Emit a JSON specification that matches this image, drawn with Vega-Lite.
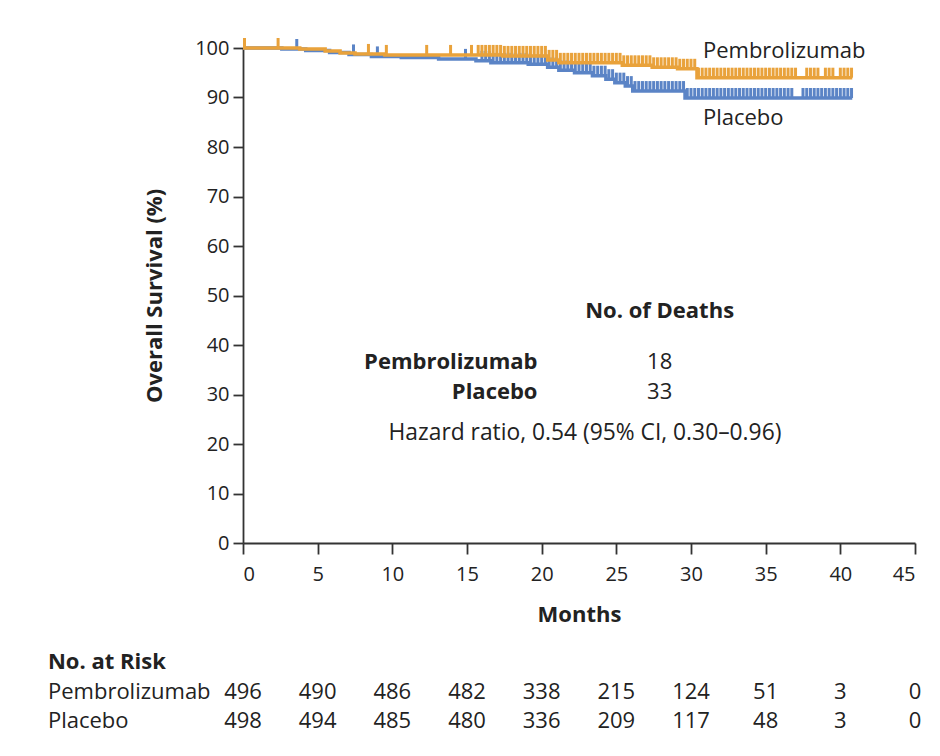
{
 "$schema": "https://vega.github.io/schema/vega-lite/v6.json",
 "width": 672, "height": 495,
 "autosize": {"type": "none"},
 "padding": {"left": 243, "top": 48, "right": 25, "bottom": 213},
 "background": "white",
 "config": {
  "view": {"stroke": null},
  "font": "Open Sans",
  "axis": {"domainColor": "#333", "domainWidth": 1.8, "tickColor": "#333", "tickWidth": 1.8, "labelFont": "Open Sans", "labelFontSize": 20, "labelColor": "#222", "titleFont": "Open Sans", "titleFontSize": 22, "titleFontWeight": "bold", "titleColor": "#222", "grid": false},
  "axisX": {"tickSize": 11, "labelPadding": 10, "titlePadding": 20},
  "axisY": {"tickSize": 10, "labelPadding": 4, "titlePadding": 28},
  "text": {"font": "Open Sans", "fontSize": 22, "color": "#222", "baseline": "middle"}
 },
 "datasets": {
  "km": [
   {"arm": "Pembrolizumab", "t": 0, "s": 100}, {"arm": "Pembrolizumab", "t": 3.8, "s": 99.8}, {"arm": "Pembrolizumab", "t": 5.5, "s": 99.4}, {"arm": "Pembrolizumab", "t": 6.5, "s": 99.0}, {"arm": "Pembrolizumab", "t": 7.5, "s": 98.8}, {"arm": "Pembrolizumab", "t": 9.5, "s": 98.6}, {"arm": "Pembrolizumab", "t": 17.4, "s": 98.4}, {"arm": "Pembrolizumab", "t": 20.4, "s": 97.6}, {"arm": "Pembrolizumab", "t": 21.15, "s": 97.0}, {"arm": "Pembrolizumab", "t": 25.4, "s": 96.5}, {"arm": "Pembrolizumab", "t": 27.4, "s": 96.1}, {"arm": "Pembrolizumab", "t": 29.1, "s": 95.8}, {"arm": "Pembrolizumab", "t": 30.4, "s": 94.0}, {"arm": "Pembrolizumab", "t": 40.8, "s": 94.0},
   {"arm": "Placebo", "t": 0, "s": 100}, {"arm": "Placebo", "t": 2.6, "s": 99.8}, {"arm": "Placebo", "t": 4.2, "s": 99.5}, {"arm": "Placebo", "t": 5.8, "s": 99.1}, {"arm": "Placebo", "t": 7.1, "s": 98.7}, {"arm": "Placebo", "t": 8.6, "s": 98.3}, {"arm": "Placebo", "t": 10.6, "s": 98.1}, {"arm": "Placebo", "t": 13.1, "s": 97.8}, {"arm": "Placebo", "t": 15.6, "s": 97.4}, {"arm": "Placebo", "t": 16.6, "s": 97.0}, {"arm": "Placebo", "t": 19.1, "s": 96.7}, {"arm": "Placebo", "t": 20.4, "s": 96.1}, {"arm": "Placebo", "t": 21.15, "s": 95.5}, {"arm": "Placebo", "t": 22.2, "s": 95.0}, {"arm": "Placebo", "t": 23.4, "s": 94.4}, {"arm": "Placebo", "t": 24.3, "s": 93.7}, {"arm": "Placebo", "t": 24.9, "s": 93.0}, {"arm": "Placebo", "t": 25.6, "s": 92.3}, {"arm": "Placebo", "t": 26.1, "s": 91.3}, {"arm": "Placebo", "t": 29.6, "s": 89.9}, {"arm": "Placebo", "t": 40.8, "s": 89.9}
  ],
  "cens": [
   {"arm": "Pembrolizumab", "t": 0.1, "s": 100}, {"arm": "Pembrolizumab", "t": 2.35, "s": 100}, {"arm": "Pembrolizumab", "t": 8.4, "s": 98.8}, {"arm": "Pembrolizumab", "t": 9.6, "s": 98.6}, {"arm": "Pembrolizumab", "t": 12.3, "s": 98.6}, {"arm": "Pembrolizumab", "t": 13.9, "s": 98.6}, {"arm": "Pembrolizumab", "t": 15.3, "s": 98.6},
   {"arm": "Pembrolizumab", "t": 15.75, "s": 98.6}, {"arm": "Pembrolizumab", "t": 16, "s": 98.6}, {"arm": "Pembrolizumab", "t": 16.25, "s": 98.6}, {"arm": "Pembrolizumab", "t": 16.5, "s": 98.6}, {"arm": "Pembrolizumab", "t": 16.75, "s": 98.6}, {"arm": "Pembrolizumab", "t": 17, "s": 98.6}, {"arm": "Pembrolizumab", "t": 17.25, "s": 98.6},
   {"arm": "Pembrolizumab", "t": 17.5, "s": 98.4}, {"arm": "Pembrolizumab", "t": 17.75, "s": 98.4}, {"arm": "Pembrolizumab", "t": 18, "s": 98.4}, {"arm": "Pembrolizumab", "t": 18.25, "s": 98.4}, {"arm": "Pembrolizumab", "t": 18.5, "s": 98.4}, {"arm": "Pembrolizumab", "t": 18.75, "s": 98.4}, {"arm": "Pembrolizumab", "t": 19, "s": 98.4}, {"arm": "Pembrolizumab", "t": 19.25, "s": 98.4}, {"arm": "Pembrolizumab", "t": 19.5, "s": 98.4}, {"arm": "Pembrolizumab", "t": 19.75, "s": 98.4}, {"arm": "Pembrolizumab", "t": 20, "s": 98.4}, {"arm": "Pembrolizumab", "t": 20.25, "s": 98.4},
   {"arm": "Pembrolizumab", "t": 20.5, "s": 97.6}, {"arm": "Pembrolizumab", "t": 20.75, "s": 97.6}, {"arm": "Pembrolizumab", "t": 21, "s": 97.6},
   {"arm": "Pembrolizumab", "t": 21.25, "s": 97.0}, {"arm": "Pembrolizumab", "t": 21.5, "s": 97.0}, {"arm": "Pembrolizumab", "t": 21.75, "s": 97.0}, {"arm": "Pembrolizumab", "t": 22, "s": 97.0}, {"arm": "Pembrolizumab", "t": 22.25, "s": 97.0}, {"arm": "Pembrolizumab", "t": 22.5, "s": 97.0}, {"arm": "Pembrolizumab", "t": 22.75, "s": 97.0}, {"arm": "Pembrolizumab", "t": 23, "s": 97.0}, {"arm": "Pembrolizumab", "t": 23.25, "s": 97.0}, {"arm": "Pembrolizumab", "t": 23.5, "s": 97.0}, {"arm": "Pembrolizumab", "t": 23.75, "s": 97.0}, {"arm": "Pembrolizumab", "t": 24, "s": 97.0}, {"arm": "Pembrolizumab", "t": 24.25, "s": 97.0}, {"arm": "Pembrolizumab", "t": 24.5, "s": 97.0}, {"arm": "Pembrolizumab", "t": 24.75, "s": 97.0}, {"arm": "Pembrolizumab", "t": 25, "s": 97.0}, {"arm": "Pembrolizumab", "t": 25.25, "s": 97.0},
   {"arm": "Pembrolizumab", "t": 25.5, "s": 96.5}, {"arm": "Pembrolizumab", "t": 25.75, "s": 96.5}, {"arm": "Pembrolizumab", "t": 26, "s": 96.5}, {"arm": "Pembrolizumab", "t": 26.25, "s": 96.5}, {"arm": "Pembrolizumab", "t": 26.5, "s": 96.5}, {"arm": "Pembrolizumab", "t": 26.75, "s": 96.5}, {"arm": "Pembrolizumab", "t": 27, "s": 96.5}, {"arm": "Pembrolizumab", "t": 27.25, "s": 96.5},
   {"arm": "Pembrolizumab", "t": 27.5, "s": 96.1}, {"arm": "Pembrolizumab", "t": 27.75, "s": 96.1}, {"arm": "Pembrolizumab", "t": 28, "s": 96.1}, {"arm": "Pembrolizumab", "t": 28.25, "s": 96.1}, {"arm": "Pembrolizumab", "t": 28.5, "s": 96.1}, {"arm": "Pembrolizumab", "t": 28.75, "s": 96.1}, {"arm": "Pembrolizumab", "t": 29, "s": 96.1},
   {"arm": "Pembrolizumab", "t": 29.25, "s": 95.8}, {"arm": "Pembrolizumab", "t": 29.5, "s": 95.8}, {"arm": "Pembrolizumab", "t": 29.75, "s": 95.8}, {"arm": "Pembrolizumab", "t": 30, "s": 95.8}, {"arm": "Pembrolizumab", "t": 30.25, "s": 95.8},
   {"arm": "Pembrolizumab", "t": 30.5, "s": 94.0}, {"arm": "Pembrolizumab", "t": 30.75, "s": 94.0}, {"arm": "Pembrolizumab", "t": 31, "s": 94.0}, {"arm": "Pembrolizumab", "t": 31.25, "s": 94.0}, {"arm": "Pembrolizumab", "t": 31.5, "s": 94.0}, {"arm": "Pembrolizumab", "t": 31.75, "s": 94.0}, {"arm": "Pembrolizumab", "t": 32, "s": 94.0}, {"arm": "Pembrolizumab", "t": 32.25, "s": 94.0}, {"arm": "Pembrolizumab", "t": 32.5, "s": 94.0}, {"arm": "Pembrolizumab", "t": 32.75, "s": 94.0}, {"arm": "Pembrolizumab", "t": 33, "s": 94.0}, {"arm": "Pembrolizumab", "t": 33.25, "s": 94.0}, {"arm": "Pembrolizumab", "t": 33.5, "s": 94.0}, {"arm": "Pembrolizumab", "t": 33.75, "s": 94.0}, {"arm": "Pembrolizumab", "t": 34, "s": 94.0}, {"arm": "Pembrolizumab", "t": 34.25, "s": 94.0}, {"arm": "Pembrolizumab", "t": 34.5, "s": 94.0}, {"arm": "Pembrolizumab", "t": 34.75, "s": 94.0}, {"arm": "Pembrolizumab", "t": 35, "s": 94.0}, {"arm": "Pembrolizumab", "t": 35.25, "s": 94.0}, {"arm": "Pembrolizumab", "t": 35.5, "s": 94.0}, {"arm": "Pembrolizumab", "t": 35.75, "s": 94.0}, {"arm": "Pembrolizumab", "t": 36, "s": 94.0}, {"arm": "Pembrolizumab", "t": 36.25, "s": 94.0}, {"arm": "Pembrolizumab", "t": 36.5, "s": 94.0}, {"arm": "Pembrolizumab", "t": 36.75, "s": 94.0}, {"arm": "Pembrolizumab", "t": 37, "s": 94.0}, {"arm": "Pembrolizumab", "t": 37.75, "s": 94.0}, {"arm": "Pembrolizumab", "t": 38, "s": 94.0}, {"arm": "Pembrolizumab", "t": 38.25, "s": 94.0}, {"arm": "Pembrolizumab", "t": 38.5, "s": 94.0}, {"arm": "Pembrolizumab", "t": 39, "s": 94.0}, {"arm": "Pembrolizumab", "t": 39.25, "s": 94.0}, {"arm": "Pembrolizumab", "t": 39.5, "s": 94.0}, {"arm": "Pembrolizumab", "t": 40, "s": 94.0}, {"arm": "Pembrolizumab", "t": 40.25, "s": 94.0}, {"arm": "Pembrolizumab", "t": 40.5, "s": 94.0}, {"arm": "Pembrolizumab", "t": 40.75, "s": 94.0},
   {"arm": "Placebo", "t": 3.6, "s": 99.8}, {"arm": "Placebo", "t": 7.4, "s": 98.7}, {"arm": "Placebo", "t": 9.0, "s": 98.3}, {"arm": "Placebo", "t": 14.9, "s": 97.8},
   {"arm": "Placebo", "t": 16, "s": 97.4}, {"arm": "Placebo", "t": 16.25, "s": 97.4}, {"arm": "Placebo", "t": 16.5, "s": 97.4},
   {"arm": "Placebo", "t": 16.75, "s": 97.0}, {"arm": "Placebo", "t": 17, "s": 97.0}, {"arm": "Placebo", "t": 17.25, "s": 97.0}, {"arm": "Placebo", "t": 17.5, "s": 97.0}, {"arm": "Placebo", "t": 17.75, "s": 97.0}, {"arm": "Placebo", "t": 18, "s": 97.0}, {"arm": "Placebo", "t": 18.25, "s": 97.0}, {"arm": "Placebo", "t": 18.5, "s": 97.0}, {"arm": "Placebo", "t": 18.75, "s": 97.0}, {"arm": "Placebo", "t": 19, "s": 97.0},
   {"arm": "Placebo", "t": 19.25, "s": 96.7}, {"arm": "Placebo", "t": 19.5, "s": 96.7}, {"arm": "Placebo", "t": 19.75, "s": 96.7}, {"arm": "Placebo", "t": 20, "s": 96.7}, {"arm": "Placebo", "t": 20.25, "s": 96.7},
   {"arm": "Placebo", "t": 20.5, "s": 96.1}, {"arm": "Placebo", "t": 20.75, "s": 96.1}, {"arm": "Placebo", "t": 21, "s": 96.1},
   {"arm": "Placebo", "t": 21.25, "s": 95.5}, {"arm": "Placebo", "t": 21.5, "s": 95.5}, {"arm": "Placebo", "t": 21.75, "s": 95.5}, {"arm": "Placebo", "t": 22, "s": 95.5},
   {"arm": "Placebo", "t": 22.25, "s": 95.0}, {"arm": "Placebo", "t": 22.5, "s": 95.0}, {"arm": "Placebo", "t": 22.75, "s": 95.0}, {"arm": "Placebo", "t": 23, "s": 95.0}, {"arm": "Placebo", "t": 23.25, "s": 95.0},
   {"arm": "Placebo", "t": 23.5, "s": 94.4}, {"arm": "Placebo", "t": 23.75, "s": 94.4}, {"arm": "Placebo", "t": 24, "s": 94.4}, {"arm": "Placebo", "t": 24.25, "s": 94.4},
   {"arm": "Placebo", "t": 24.5, "s": 93.7}, {"arm": "Placebo", "t": 24.75, "s": 93.7},
   {"arm": "Placebo", "t": 25, "s": 93.0}, {"arm": "Placebo", "t": 25.25, "s": 93.0}, {"arm": "Placebo", "t": 25.5, "s": 93.0},
   {"arm": "Placebo", "t": 25.75, "s": 92.3}, {"arm": "Placebo", "t": 26, "s": 92.3},
   {"arm": "Placebo", "t": 26.25, "s": 91.3}, {"arm": "Placebo", "t": 26.5, "s": 91.3}, {"arm": "Placebo", "t": 26.75, "s": 91.3}, {"arm": "Placebo", "t": 27, "s": 91.3}, {"arm": "Placebo", "t": 27.25, "s": 91.3}, {"arm": "Placebo", "t": 27.5, "s": 91.3}, {"arm": "Placebo", "t": 27.75, "s": 91.3}, {"arm": "Placebo", "t": 28, "s": 91.3}, {"arm": "Placebo", "t": 28.25, "s": 91.3}, {"arm": "Placebo", "t": 28.5, "s": 91.3}, {"arm": "Placebo", "t": 28.75, "s": 91.3}, {"arm": "Placebo", "t": 29, "s": 91.3}, {"arm": "Placebo", "t": 29.25, "s": 91.3}, {"arm": "Placebo", "t": 29.5, "s": 91.3},
   {"arm": "Placebo", "t": 29.75, "s": 89.9}, {"arm": "Placebo", "t": 30, "s": 89.9}, {"arm": "Placebo", "t": 30.25, "s": 89.9}, {"arm": "Placebo", "t": 30.5, "s": 89.9}, {"arm": "Placebo", "t": 30.75, "s": 89.9}, {"arm": "Placebo", "t": 31, "s": 89.9}, {"arm": "Placebo", "t": 31.25, "s": 89.9}, {"arm": "Placebo", "t": 31.5, "s": 89.9}, {"arm": "Placebo", "t": 31.75, "s": 89.9}, {"arm": "Placebo", "t": 32, "s": 89.9}, {"arm": "Placebo", "t": 32.25, "s": 89.9}, {"arm": "Placebo", "t": 32.5, "s": 89.9}, {"arm": "Placebo", "t": 32.75, "s": 89.9}, {"arm": "Placebo", "t": 33, "s": 89.9}, {"arm": "Placebo", "t": 33.25, "s": 89.9}, {"arm": "Placebo", "t": 33.5, "s": 89.9}, {"arm": "Placebo", "t": 33.75, "s": 89.9}, {"arm": "Placebo", "t": 34, "s": 89.9}, {"arm": "Placebo", "t": 34.25, "s": 89.9}, {"arm": "Placebo", "t": 34.5, "s": 89.9}, {"arm": "Placebo", "t": 34.75, "s": 89.9}, {"arm": "Placebo", "t": 35, "s": 89.9}, {"arm": "Placebo", "t": 35.25, "s": 89.9}, {"arm": "Placebo", "t": 35.5, "s": 89.9}, {"arm": "Placebo", "t": 35.75, "s": 89.9}, {"arm": "Placebo", "t": 36, "s": 89.9}, {"arm": "Placebo", "t": 36.25, "s": 89.9}, {"arm": "Placebo", "t": 36.5, "s": 89.9}, {"arm": "Placebo", "t": 36.75, "s": 89.9}, {"arm": "Placebo", "t": 37.5, "s": 89.9}, {"arm": "Placebo", "t": 37.75, "s": 89.9}, {"arm": "Placebo", "t": 38, "s": 89.9}, {"arm": "Placebo", "t": 38.25, "s": 89.9}, {"arm": "Placebo", "t": 38.5, "s": 89.9}, {"arm": "Placebo", "t": 38.75, "s": 89.9}, {"arm": "Placebo", "t": 39, "s": 89.9}, {"arm": "Placebo", "t": 39.25, "s": 89.9}, {"arm": "Placebo", "t": 39.5, "s": 89.9}, {"arm": "Placebo", "t": 39.75, "s": 89.9}, {"arm": "Placebo", "t": 40, "s": 89.9}, {"arm": "Placebo", "t": 40.25, "s": 89.9}, {"arm": "Placebo", "t": 40.5, "s": 89.9}, {"arm": "Placebo", "t": 40.75, "s": 89.9}
  ],
  "risk": [
   {"arm": "Pembrolizumab", "t": 0, "n": 496}, {"arm": "Pembrolizumab", "t": 5, "n": 490}, {"arm": "Pembrolizumab", "t": 10, "n": 486}, {"arm": "Pembrolizumab", "t": 15, "n": 482}, {"arm": "Pembrolizumab", "t": 20, "n": 338}, {"arm": "Pembrolizumab", "t": 25, "n": 215}, {"arm": "Pembrolizumab", "t": 30, "n": 124}, {"arm": "Pembrolizumab", "t": 35, "n": 51}, {"arm": "Pembrolizumab", "t": 40, "n": 3}, {"arm": "Pembrolizumab", "t": 45, "n": 0},
   {"arm": "Placebo", "t": 0, "n": 498}, {"arm": "Placebo", "t": 5, "n": 494}, {"arm": "Placebo", "t": 10, "n": 485}, {"arm": "Placebo", "t": 15, "n": 480}, {"arm": "Placebo", "t": 20, "n": 336}, {"arm": "Placebo", "t": 25, "n": 209}, {"arm": "Placebo", "t": 30, "n": 117}, {"arm": "Placebo", "t": 35, "n": 48}, {"arm": "Placebo", "t": 40, "n": 3}, {"arm": "Placebo", "t": 45, "n": 0}
  ]
 },
 "layer": [
  {
   "data": {"name": "km"},
   "transform": [{"filter": "datum.arm === 'Placebo'"}],
   "mark": {"type": "line", "interpolate": "step-after", "strokeWidth": 3.5, "color": "#5B84C6"},
   "encoding": {
    "x": {"field": "t", "type": "quantitative", "title": "Months", "scale": {"domain": [0, 45], "nice": false}, "axis": {"values": [0, 5, 10, 15, 20, 25, 30, 35, 40, 45]}},
    "y": {"field": "s", "type": "quantitative", "title": "Overall Survival (%)", "scale": {"domain": [0, 100], "nice": false}, "axis": {"values": [0, 10, 20, 30, 40, 50, 60, 70, 80, 90, 100]}}
   }
  },
  {
   "data": {"name": "cens"},
   "transform": [{"filter": "datum.arm === 'Placebo'"}],
   "mark": {"type": "tick", "orient": "vertical", "size": 10, "thickness": 3, "yOffset": -5, "opacity": 1, "color": "#5B84C6"},
   "encoding": {
    "x": {"field": "t", "type": "quantitative", "title": "Months"},
    "y": {"field": "s", "type": "quantitative", "title": "Overall Survival (%)"}
   }
  },
  {
   "data": {"name": "km"},
   "transform": [{"filter": "datum.arm === 'Pembrolizumab'"}],
   "mark": {"type": "line", "interpolate": "step-after", "strokeWidth": 3.5, "color": "#E9A23B"},
   "encoding": {
    "x": {"field": "t", "type": "quantitative", "title": "Months"},
    "y": {"field": "s", "type": "quantitative", "title": "Overall Survival (%)"}
   }
  },
  {
   "data": {"name": "cens"},
   "transform": [{"filter": "datum.arm === 'Pembrolizumab'"}],
   "mark": {"type": "tick", "orient": "vertical", "size": 10, "thickness": 3, "yOffset": -5, "opacity": 1, "color": "#E9A23B"},
   "encoding": {
    "x": {"field": "t", "type": "quantitative", "title": "Months"},
    "y": {"field": "s", "type": "quantitative", "title": "Overall Survival (%)"}
   }
  },
  {"data": {"values": [{}]}, "mark": {"type": "text", "align": "left"}, "encoding": {"x": {"datum": 30.8, "title": "Months"}, "y": {"datum": 99.4, "title": "Overall Survival (%)"}, "text": {"value": "Pembrolizumab"}}},
  {"data": {"values": [{}]}, "mark": {"type": "text", "align": "left"}, "encoding": {"x": {"datum": 30.8, "title": "Months"}, "y": {"datum": 85.86, "title": "Overall Survival (%)"}, "text": {"value": "Placebo"}}},
  {"data": {"values": [{}]}, "mark": {"type": "text", "align": "center", "fontWeight": "bold"}, "encoding": {"x": {"datum": 27.9, "title": "Months"}, "y": {"datum": 46.87, "title": "Overall Survival (%)"}, "text": {"value": "No. of Deaths"}}},
  {"data": {"values": [{}]}, "mark": {"type": "text", "align": "right", "fontWeight": "bold"}, "encoding": {"x": {"datum": 19.72, "title": "Months"}, "y": {"datum": 36.57, "title": "Overall Survival (%)"}, "text": {"value": "Pembrolizumab"}}},
  {"data": {"values": [{}]}, "mark": {"type": "text", "align": "center"}, "encoding": {"x": {"datum": 27.9, "title": "Months"}, "y": {"datum": 36.57, "title": "Overall Survival (%)"}, "text": {"value": "18"}}},
  {"data": {"values": [{}]}, "mark": {"type": "text", "align": "right", "fontWeight": "bold"}, "encoding": {"x": {"datum": 19.72, "title": "Months"}, "y": {"datum": 30.5, "title": "Overall Survival (%)"}, "text": {"value": "Placebo"}}},
  {"data": {"values": [{}]}, "mark": {"type": "text", "align": "center"}, "encoding": {"x": {"datum": 27.9, "title": "Months"}, "y": {"datum": 30.5, "title": "Overall Survival (%)"}, "text": {"value": "33"}}},
  {"data": {"values": [{}]}, "mark": {"type": "text", "align": "center", "fontSize": 22.8}, "encoding": {"x": {"datum": 22.9, "title": "Months"}, "y": {"datum": 22.2, "title": "Overall Survival (%)"}, "text": {"value": "Hazard ratio, 0.54 (95% CI, 0.30–0.96)"}}},
  {"data": {"values": [{}]}, "mark": {"type": "text", "align": "left", "fontWeight": "bold"}, "encoding": {"x": {"datum": -13.06, "title": "Months"}, "y": {"datum": -24.04, "title": "Overall Survival (%)"}, "text": {"value": "No. at Risk"}}},
  {"data": {"values": [{}]}, "mark": {"type": "text", "align": "left"}, "encoding": {"x": {"datum": -13.06, "title": "Months"}, "y": {"datum": -30.0, "title": "Overall Survival (%)"}, "text": {"value": "Pembrolizumab"}}},
  {"data": {"values": [{}]}, "mark": {"type": "text", "align": "left"}, "encoding": {"x": {"datum": -13.06, "title": "Months"}, "y": {"datum": -35.86, "title": "Overall Survival (%)"}, "text": {"value": "Placebo"}}},
  {
   "data": {"name": "risk"},
   "transform": [{"filter": "datum.arm === 'Pembrolizumab'"}],
   "mark": {"type": "text", "align": "center"},
   "encoding": {"x": {"field": "t", "type": "quantitative", "title": "Months"}, "y": {"datum": -30.0, "title": "Overall Survival (%)"}, "text": {"field": "n"}}
  },
  {
   "data": {"name": "risk"},
   "transform": [{"filter": "datum.arm === 'Placebo'"}],
   "mark": {"type": "text", "align": "center"},
   "encoding": {"x": {"field": "t", "type": "quantitative", "title": "Months"}, "y": {"datum": -35.86, "title": "Overall Survival (%)"}, "text": {"field": "n"}}
  }
 ]
}
